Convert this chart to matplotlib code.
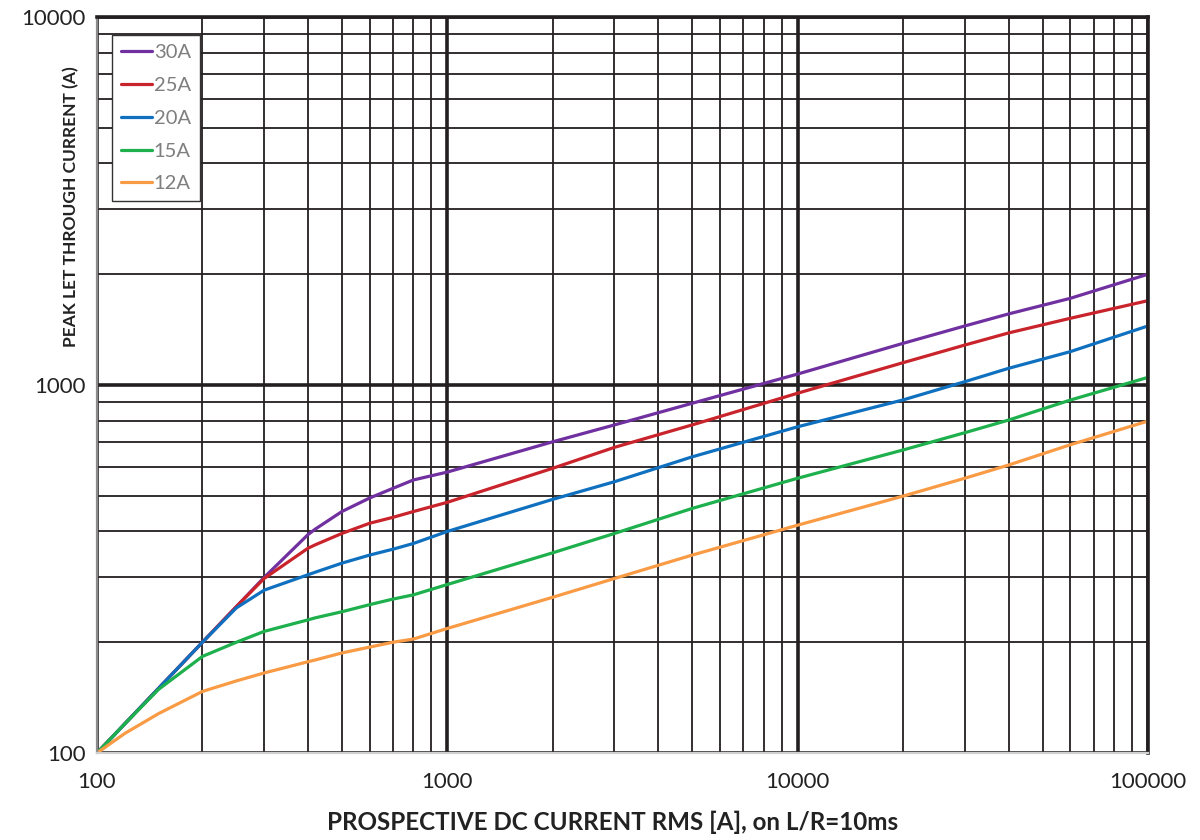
import numpy as np
from matplotlib import pyplot as plt
from matplotlib.ticker import LogLocator, FuncFormatter, NullFormatter

plt.rcParams['font.family'] = ['Lato', 'DejaVu Sans']

# prospective current (A)
current = [100, 120, 150, 200, 250, 300, 400, 420, 500, 600, 700, 800,
           1000, 2000, 3000, 5000, 10000, 20000, 30000, 40000, 60000, 100000]

# peak let through current (A) per fuse rating
peak_30a = [100, 120, 150, 200, 250, 300, 392, 406, 453, 493, 524, 552,
            580, 701, 779, 892, 1071, 1298, 1447, 1560, 1720, 2000]
peak_25a = [100, 120, 150, 200, 250, 298, 360, 368, 395, 421, 437, 453,
            480, 594, 677, 779, 950, 1150, 1284, 1385, 1518, 1695]
peak_20a = [100, 120, 150, 200, 248, 277, 305, 310, 328, 345, 358, 371,
            400, 489, 546, 638, 770, 911, 1021, 1110, 1232, 1447]
peak_15a = [100, 120, 149, 183, 200, 214, 230, 233, 242, 253, 262, 269,
            287, 350, 395, 462, 558, 666, 742, 803, 910, 1049]
peak_12a = [100, 113, 128, 147, 157, 165, 177, 179, 187, 194, 200, 204,
            218, 265, 298, 345, 416, 499, 558, 606, 688, 798]

labels = ['30A', '25A', '20A', '15A', '12A']
colors = ['#7030A0', '#C9232B', '#0F70BF', '#1DB04C', '#F99B45']
series = [peak_30a, peak_25a, peak_20a, peak_15a, peak_12a]

fig = plt.figure(figsize=(12, 8.4), dpi=100)
ax = fig.add_axes([97/1200, 1-753/840, 1051/1200, 736/840])

for y, lab, col in zip(series, labels, colors):
    ax.plot(current, y, color=col, lw=2.3, label=lab, solid_capstyle='round')

ax.set_xscale('log')
ax.set_yscale('log')
ax.set_xlim(100, 100000)
ax.set_ylim(100, 10000)

for axis in [ax.xaxis, ax.yaxis]:
    axis.set_major_locator(LogLocator(base=10, numticks=10))
    axis.set_minor_locator(LogLocator(base=10, subs=np.arange(2, 10), numticks=10))
    axis.set_major_formatter(FuncFormatter(lambda v, p: '%d' % v))
    axis.set_minor_formatter(NullFormatter())

ax.set_axisbelow(True)
ax.grid(which='major', color='#231F20', lw=2.6)
ax.grid(which='minor', color='#231F20', lw=1.3)
ax.tick_params(which='both', length=0, labelsize=16, colors='#222222')
ax.tick_params(axis='x', pad=14)
ax.tick_params(axis='y', pad=8)

ax.spines['left'].set_color('#8c8c8c')
ax.spines['left'].set_linewidth(1.6)
ax.spines['bottom'].set_color('#d0d0d0')
ax.spines['bottom'].set_linewidth(1.6)
ax.spines['top'].set_color('#231F20')
ax.spines['top'].set_linewidth(2.6)
ax.spines['right'].set_color('#231F20')
ax.spines['right'].set_linewidth(2.6)

ax.set_xlabel('PROSPECTIVE DC CURRENT RMS [A], on L/R=10ms', fontsize=17.4,
              fontweight='bold', color='#222222', va='center')
ax.xaxis.set_label_coords(0.4905, -0.094)
ax.set_ylabel('PEAK LET THROUGH CURRENT (A)', fontsize=12.5,
              fontweight='bold', color='#222222', va='center')
ax.yaxis.set_label_coords(-0.0247, 0.742)

leg = ax.legend(loc='upper left', bbox_to_anchor=(0.0146, 0.9755), borderaxespad=0,
                fontsize=14.5, frameon=True, fancybox=False, handlelength=1.5,
                handletextpad=0.1, labelspacing=0.78, borderpad=0.45)
leg.get_frame().set_edgecolor('#333333')
leg.get_frame().set_linewidth(1.0)
leg.get_frame().set_alpha(1)
for t in leg.get_texts():
    t.set_color('#7f7f7f')

fig.savefig('out.png', dpi=100)
